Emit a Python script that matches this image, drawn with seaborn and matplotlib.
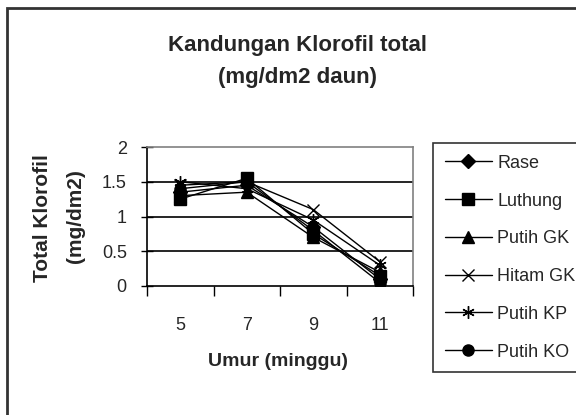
import matplotlib
matplotlib.use("Agg")
import matplotlib.pyplot as plt
import matplotlib.patches as patches
import pandas as pd
import seaborn as sns

# data
umur = [5, 7, 9, 11]
rase = [1.35, 1.45, 0.85, 0.10]
luthung = [1.25, 1.55, 0.75, 0.15]
putih_gk = [1.30, 1.35, 0.70, 0.20]
hitam_gk = [1.45, 1.50, 1.10, 0.35]
putih_kp = [1.50, 1.40, 0.95, 0.30]
putih_ko = [1.40, 1.50, 0.80, 0.05]

names = ["Rase", "Luthung", "Putih GK", "Hitam GK", "Putih KP", "Putih KO"]
series = [rase, luthung, putih_gk, hitam_gk, putih_kp, putih_ko]

rows = []
for n, vals in zip(names, series):
    for u, v in zip(umur, vals):
        rows.append({"Umur": u, "Klorofil": v, "Varietas": n})
df = pd.DataFrame(rows)

sns.set_style("white")
plt.rcParams["font.family"] = ["Liberation Sans", "DejaVu Sans"]

fig = plt.figure(figsize=(5.76, 4.15), dpi=100)
ax = fig.add_axes([147 / 576, 1 - 286 / 415, 266 / 576, 139 / 415])

markers = {"Rase": "D", "Luthung": "s", "Putih GK": "^",
           "Hitam GK": "x", "Putih KP": (6, 2, 0), "Putih KO": "o"}
msizes = {"Rase": 7, "Luthung": 8, "Putih GK": 8,
          "Hitam GK": 8, "Putih KP": 9, "Putih KO": 8}

for n in names:
    sub = df[df["Varietas"] == n]
    sns.lineplot(data=sub, x="Umur", y="Klorofil", ax=ax, color="black",
                 marker=markers[n], markersize=msizes[n], markeredgecolor="black",
                 markerfacecolor="black", markeredgewidth=1, linewidth=1, label=n)

ax.set_xlim(4, 12)
ax.set_ylim(0, 2)
ax.set_xticks([4, 6, 8, 10, 12])
ax.set_xticklabels([])
ax.set_xticks(umur, minor=True)
ax.set_xticklabels([str(u) for u in umur], minor=True, fontsize=13)
ax.tick_params(axis="x", which="major", direction="out", length=7, width=1, color="black",
               bottom=True)
ax.tick_params(axis="x", which="minor", length=0, pad=22)
ax.set_yticks([0, 0.5, 1, 1.5, 2])
ax.set_yticklabels(["0", "0.5", "1", "1.5", "2"], fontsize=13)
ax.tick_params(axis="y", direction="inout", length=9, width=1, color="black", pad=10,
               left=True)

ax.grid(False)
for yv in [0.5, 1, 1.5]:
    ax.axhline(yv, color="black", linewidth=1.2, zorder=0)
ax.spines["left"].set_color("black")
ax.spines["bottom"].set_color("black")
ax.spines["top"].set_color("#808080")
ax.spines["right"].set_color("#808080")
for s in ax.spines.values():
    s.set_linewidth(1.2)

ax.set_xlabel("")
ax.set_ylabel("")

fig.text(297 / 576, 1 - 45 / 415, "Kandungan Klorofil total", ha="center", va="center",
         fontsize=16, fontweight="bold")
fig.text(297 / 576, 1 - 78 / 415, "(mg/dm2 daun)", ha="center", va="center",
         fontsize=16, fontweight="bold")
fig.text(43 / 576, 1 - 218 / 415, "Total Klorofil", rotation=90, ha="center", va="center",
         fontsize=15, fontweight="bold")
fig.text(75 / 576, 1 - 216 / 415, "(mg/dm2)", rotation=90, ha="center", va="center",
         fontsize=15, fontweight="bold")
fig.text(278 / 576, 1 - 361 / 415, "Umur (minggu)", ha="center", va="center",
         fontsize=14, fontweight="bold")

handles, labels = ax.get_legend_handles_labels()
leg = ax.legend(handles, labels, loc="upper left",
                bbox_to_anchor=(433 / 576, 1 - 143 / 415), bbox_transform=fig.transFigure,
                frameon=True, fancybox=False, edgecolor="black", fontsize=13,
                handlelength=2.6, handletextpad=0.3, labelspacing=1.15,
                borderpad=0.65, borderaxespad=0)
leg.get_frame().set_linewidth(1.2)

fig.patches.append(patches.Rectangle((7 / 576, -0.1), 1.0, 1 - 8 / 415 + 0.1,
                                     transform=fig.transFigure, fill=False,
                                     edgecolor="#333333", linewidth=2))

fig.savefig("out.png", dpi=100)
